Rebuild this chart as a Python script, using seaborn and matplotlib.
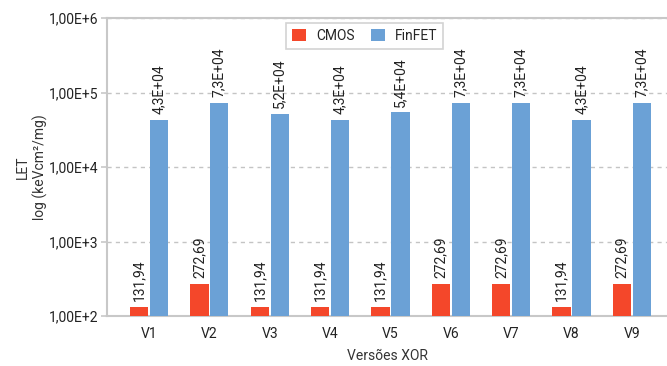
import math
import matplotlib
matplotlib.use("Agg")
import matplotlib.pyplot as plt
import seaborn as sns
import pandas as pd
from matplotlib.ticker import FixedLocator, FuncFormatter, NullLocator

# LET per XOR version for each technology
versions = ["V1", "V2", "V3", "V4", "V5", "V6", "V7", "V8", "V9"]
cmos = [131.94, 272.69, 131.94, 131.94, 131.94, 272.69, 272.69, 131.94, 272.69]
finfet = [4.3e4, 7.3e4, 5.2e4, 4.3e4, 5.4e4, 7.3e4, 7.3e4, 4.3e4, 7.3e4]
series = ["CMOS", "FinFET"]
y_ticks = [1e2, 1e3, 1e4, 1e5, 1e6]

df = pd.DataFrame({
    "Versão": versions * 2,
    "LET": cmos + finfet,
    "Tecnologia": [series[0]] * len(cmos) + [series[1]] * len(finfet),
})

sns.set_theme(style="white")
plt.rcParams["font.family"] = ["Roboto", "DejaVu Sans"]

fig = plt.figure(figsize=(6.67, 3.66), dpi=100)
ax = fig.add_axes([0.1604, 0.1366, 0.8396, 0.8142])

palette = {"CMOS": "#F4472A", "FinFET": "#6BA1D6"}
sns.barplot(data=df, x="Versão", y="LET", hue="Tecnologia", palette=palette,
            width=0.66, gap=0.08, saturation=1, linewidth=0, ax=ax, zorder=3)

ax.set_yscale("log")
ax.set_ylim(1e2, 1e6)
ax.set_xlim(-0.695, 8.58)
ax.yaxis.set_major_locator(FixedLocator(y_ticks))
ax.yaxis.set_minor_locator(NullLocator())
ax.yaxis.set_major_formatter(FuncFormatter(
    lambda v, p: "1,00E+%d" % round(math.log10(v))))

ax.grid(axis="y", color="#c4c4c4", linestyle=(0, (3, 3)), linewidth=1, zorder=0)
ax.spines["right"].set_visible(False)
for s in ["left", "bottom", "top"]:
    ax.spines[s].set_color("#c8c8c8")
    ax.spines[s].set_linewidth(1.5)
ax.spines["left"].set_zorder(5)

ax.tick_params(axis="y", length=4, color="#c8c8c8", width=1.2, labelsize=10,
               labelcolor="#222222", pad=2, left=True)
ax.tick_params(axis="x", length=0, labelsize=10, labelcolor="#222222", pad=8)

ax.set_xlabel("Versões XOR", fontsize=10, color="#333333", labelpad=6)
ax.set_ylabel("LET\nlog (keVcm²/mg)", fontsize=10, color="#333333", labelpad=1)

# value labels above each bar
fmt = {
    "CMOS": [("%.2f" % v).replace(".", ",") for v in cmos],
    "FinFET": [("%.1E" % v).replace(".", ",") for v in finfet],
}
for cont, name in zip(ax.containers, series):
    ax.bar_label(cont, labels=fmt[name], rotation=90, padding=4,
                 fontsize=10, color="#222222")

leg = ax.legend(loc="center", bbox_to_anchor=(0.46, 0.94), ncol=2, frameon=True,
                fontsize=10, handlelength=1.0, handleheight=1.0,
                columnspacing=1.2, handletextpad=0.7, borderpad=0.45,
                fancybox=False)
leg.get_frame().set_edgecolor("#c8c8c8")
leg.get_frame().set_linewidth(1.2)
leg.set_title(None)
leg.set_zorder(10)

fig.savefig("out.png", dpi=100)
